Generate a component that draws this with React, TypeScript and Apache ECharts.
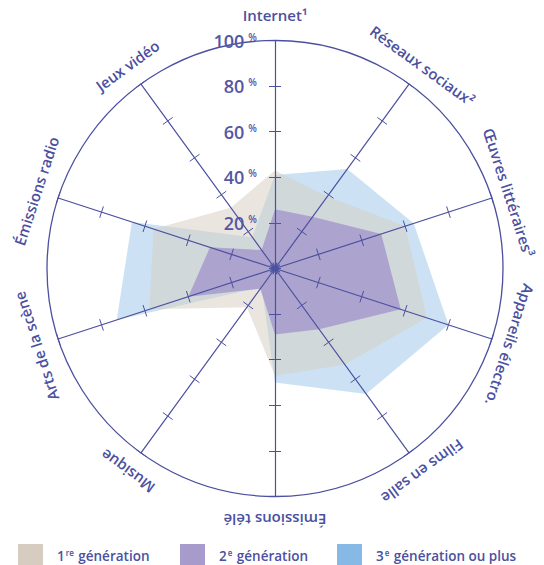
import React, { useEffect, useRef } from 'react';
import * as echarts from 'echarts';

// Indicators in the radar's own (counter-clockwise) order, starting at the top
const indicatorNames = [
  'Internet¹',
  'Jeux vidéo',
  'Émissions radio',
  'Arts de la scène',
  'Musique',
  'Émissions télé',
  'Films en salle',
  'Appareils électro.',
  'Œuvres littéraires³',
  'Réseaux sociaux²',
];
const axisMax = 100;
const axisSplits = 5;

const seriesNames = ['1re génération', '2e génération', '3e génération ou plus'];
const gen1 = [43, 33, 56, 58, 21, 47, 52, 70, 60, 39];
const gen2 = [26, 10, 30, 40, 11, 29, 33, 58, 49, 28];
const gen3 = [41, 17, 66, 73, 10, 50, 68, 80, 64, 54];

const legendParts: Record<string, string[]> = {
  '1re génération': ['1', 're', ' génération'],
  '2e génération': ['2', 'e', ' génération'],
  '3e génération ou plus': ['3', 'e', ' génération ou plus'],
};

export default function App() {
  const ref = useRef<HTMLDivElement>(null);
  useEffect(() => {
    const chart = echarts.init(ref.current!, null, { renderer: 'svg' });
    const cx = 275;
    const cy = 268.5;
    const R = 228;
    const ink = '#4b509f';
    const font = '"Open Sans", "Noto Sans", sans-serif';
    const colors = { g1: '#d6cdc0', g2: '#a69bcb', g3: '#86b9e5' };
    const n = indicatorNames.length;
    const labelRadius = [254, 251, 251, 251, 251, 251, 251, 247, 246, 251];

    const indicator = indicatorNames.map((name, i) => ({
      name,
      min: 0,
      max: axisMax,
      ...(i === 0 ? { axisLabel: { show: true } } : {}),
    }));
    const indicator2 = indicatorNames.map((name) => ({ name, min: 0, max: axisMax }));

    const ringColors = Array.from({ length: axisSplits + 1 }, (_, i) =>
      i === axisSplits ? ink : 'rgba(0,0,0,0)'
    );

    const labels = indicatorNames.map((name, i) => {
      const deg = (i * 360) / n;
      const ang = ((90 + deg) * Math.PI) / 180;
      const r = labelRadius[i];
      return {
        type: 'text',
        x: cx + r * Math.cos(ang),
        y: cy - r * Math.sin(ang),
        rotation: (deg * Math.PI) / 180,
        z: 20,
        style: {
          text: name,
          fill: ink,
          font: `600 15px ${font}`,
          align: 'center',
          verticalAlign: 'middle',
          textAlign: 'center',
          textVerticalAlign: 'middle',
        },
      };
    });

    const legendPos = [13, 175, 332];
    const legend = seriesNames.map((name, i) => ({
      data: [name],
      left: legendPos[i],
      top: 539,
      icon: 'rect',
      itemWidth: 25,
      itemHeight: 24,
      selectedMode: false,
      formatter: (nm: string) => {
        const p = legendParts[nm];
        return `{a|${p[0]}}{s|${p[1]}}{b|${p[2]}}`;
      },
      textStyle: {
        lineHeight: 15,
        rich: {
          a: { fontFamily: font, fontSize: 13.5, lineHeight: 15, fontWeight: 600, color: ink, padding: [0, 0, 0, 9] },
          s: { fontFamily: font, fontSize: 8, lineHeight: 15, fontWeight: 600, color: ink, verticalAlign: 'top', padding: [0, 1, 0, 1] },
          b: { fontFamily: font, fontSize: 13.5, lineHeight: 15, fontWeight: 600, color: ink },
        },
      },
    }));

    const areaSeries = (name: string, values: number[], color: string, opacity: number) => ({
      type: 'radar',
      radarIndex: 0,
      name,
      symbol: 'none',
      silent: true,
      itemStyle: { color },
      lineStyle: { width: 0, color },
      areaStyle: { color, opacity },
      data: [{ value: values, name }],
    });

    const common = {
      z: 5,
      center: [cx, cy],
      radius: R,
      startAngle: 90,
      shape: 'circle',
      splitNumber: axisSplits,
      axisName: { show: false },
      splitArea: { show: false },
    };

    chart.setOption({
      animation: false,
      legend,
      radar: [
        {
          ...common,
          indicator,
          splitLine: { show: true, lineStyle: { color: ringColors, width: 1.3 } },
          axisLine: { show: true, lineStyle: { color: ink, width: 1.2 } },
          axisTick: { show: true, length: 6, lineStyle: { color: ink, width: 1 } },
          axisLabel: {
            show: false,
            margin: 18,
            formatter: (v: number) => (v === 0 ? '' : `{n|${v}}{p|%}`),
            rich: {
              n: { fontFamily: font, fontSize: 18, fontWeight: 600, color: '#5357a5' },
              p: { fontFamily: font, fontSize: 10, fontWeight: 600, color: '#5357a5', verticalAlign: 'top', padding: [0, 0, 0, 4] },
            },
          },
        },
        {
          ...common,
          indicator: indicator2,
          splitLine: { show: false },
          axisLine: { show: false },
          axisLabel: { show: false },
          axisTick: { show: true, length: -6, lineStyle: { color: ink, width: 1 } },
        },
      ],
      graphic: labels,
      series: [
        areaSeries(seriesNames[2], gen3, colors.g3, 0.42),
        areaSeries(seriesNames[0], gen1, colors.g1, 0.5),
        areaSeries(seriesNames[1], gen2, colors.g2, 0.85),
      ],
    });
    return () => chart.dispose();
  }, []);
  return (
    <div
      ref={ref}
      style={{ position: 'absolute', left: 0, top: 0, width: 544, height: 565 }}
    />
  );
}
